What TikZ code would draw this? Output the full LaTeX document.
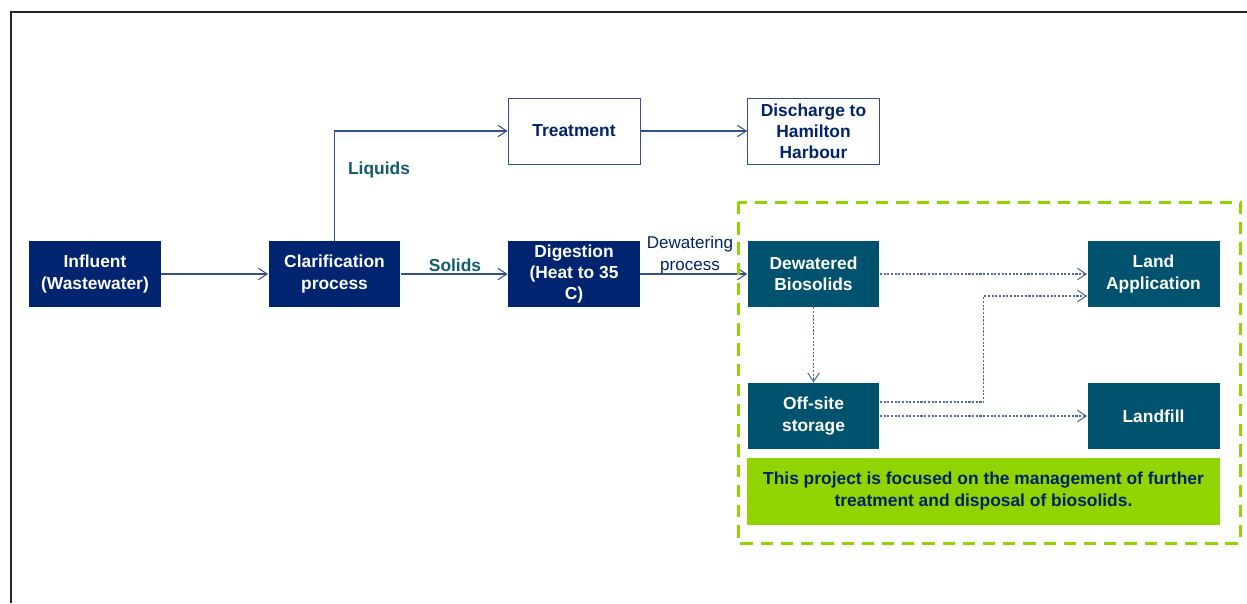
\documentclass[tikz,border=0pt]{standalone}
\usepackage{fontspec}
\setmainfont{Liberation Sans}
\usetikzlibrary{arrows.meta}
\definecolor{navybox}{RGB}{0,36,111}
\definecolor{tealbox}{RGB}{0,82,110}
\definecolor{limegreen}{RGB}{146,212,0}
\definecolor{flowline}{RGB}{52,78,146}
\definecolor{labelteal}{RGB}{20,90,115}
\definecolor{navytext}{RGB}{0,36,105}

\begin{document}
\begin{tikzpicture}[x=0.02cm,y=-0.02cm,
    box/.style={minimum width=2.64cm, minimum height=1.32cm, inner sep=1pt, align=center, font=\bfseries\fontsize{9.9}{12}\selectfont},
    navy/.style={box, fill=navybox, text=white},
    teal/.style={box, fill=tealbox, text=white},
    plain/.style={box, draw=flowline, fill=white, text=navytext},
    flow/.style={draw=flowline, line width=0.6pt, -{Straight Barb[length=5pt,width=6.5pt]}},
    dotflow/.style={flow, draw=flowline!85, dash pattern=on 1.2pt off 0.9pt}]
        \useasboundingbox (0,0) rectangle (1247,603);
        \draw[black!85, line width=0.8pt] (1247,12) -- (11,12) -- (11,603);  % frame

        \node[navy](influent) at (95,274)  {Influent\\(Wastewater)};
        \node[navy](clarif) at (334.5,274)  {Clarification\\process};
        \node[plain](treat) at (574,131)  {Treatment};
        \node[plain](discharge) at (813.5,131)  {Discharge to\\Hamilton\\Harbour};
        \node[navy](digest) at (574,274)  {Digestion\\(Heat to 35\\C)};
        \node[teal](dewater) at (813.5,274)  {Dewatered\\Biosolids};
        \node[teal](landapp) at (1153.5,274)  {Land\\Application};
        \node[teal](offsite) at (813.5,416)  {Off-site\\storage};
        \node[teal](landfill) at (1153.5,416)  {Landfill};
        \node[box, fill=limegreen, text=navytext, minimum width=9.46cm, minimum height=1.34cm](note) at (983.5,491)  {This project is focused on the management of further\\treatment and disposal of biosolids.};

        \draw[flow] (influent) -- (clarif);
        \draw[flow] (clarif.north) |- (treat.west);
        \draw[flow] (treat) -- (discharge);
        \draw[flow] (clarif) -- (digest);
        \draw[flow] (digest) -- (dewater);
        \draw[dotflow] (dewater) -- (landapp);
        \draw[dotflow] (dewater) -- (offsite);
        \draw[dotflow] ([yshift=0.28cm]offsite.east) -- ++(104,0) |- ([yshift=-0.44cm]landapp.west);
        \draw[dotflow] (offsite) -- (landfill);

        \node[text=labelteal, font=\bfseries\fontsize{9.9}{12}\selectfont](liquids) at (379,170)  {Liquids};
        \node[text=labelteal, font=\bfseries\fontsize{9.9}{12}\selectfont](solids) at (455,265)  {Solids};
        \node[text=navytext, align=center, inner sep=0pt, font=\fontsize{9.7}{12.3}\selectfont](dwproc) at (690,255)  {Dewatering\\process};

        \draw[limegreen, line width=1.7pt, dash pattern=on 7pt off 4.5pt] (738,202) rectangle (1240,543);  % focus area
\end{tikzpicture}
\end{document}
